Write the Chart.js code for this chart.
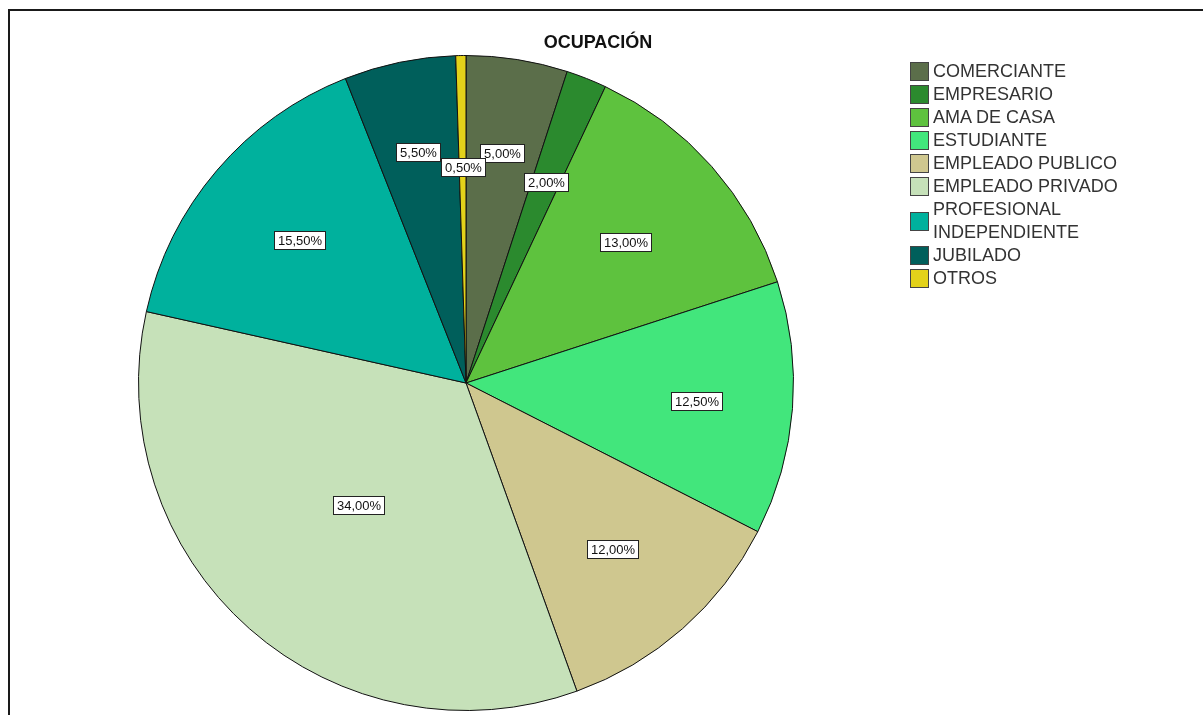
<!DOCTYPE html>
<html>
<head>
<meta charset="utf-8">
<script src="https://cdn.jsdelivr.net/npm/chart.js@4/dist/chart.umd.min.js"></script>
<style>
  html, body { margin: 0; padding: 0; background: #fff; }
  #wrap { position: relative; width: 1203px; height: 715px; overflow: hidden; font-family: "Liberation Sans", Arial, sans-serif; }
  #frame { position: absolute; left: 8px; top: 9px; width: 1200px; height: 720px; border-top: 2px solid #1a1a1a; border-left: 2px solid #1a1a1a; }
  #title { position: absolute; left: 498px; width: 200px; top: 32px; text-align: center; font-weight: bold; font-size: 18px; color: #111; }
  #chartBox { position: absolute; left: 0; top: 0; width: 1203px; height: 715px; }
  #legend { position: absolute; left: 910px; top: 60px; font-size: 18px; color: #333; }
  .item { display: flex; align-items: center; line-height: 23px; }
  .box { width: 17px; height: 17px; border: 1px solid #444; margin-right: 4px; flex: none; }
</style>
</head>
<body>
<div id="wrap">
  <div id="frame"></div>
  <div id="chartBox"><canvas id="pieChart" width="1203" height="715"></canvas></div>
  <div id="title">OCUPACIÓN</div>
  <div id="legend"></div>
</div>
<script>
// data
const labels = ["COMERCIANTE", "EMPRESARIO", "AMA DE CASA", "ESTUDIANTE", "EMPLEADO PUBLICO",
  "EMPLEADO PRIVADO", "PROFESIONAL\nINDEPENDIENTE", "JUBILADO", "OTROS"];
const percents = [5.0, 2.0, 13.0, 12.5, 12.0, 34.0, 15.5, 5.5, 0.5];
const colors = ["#5b6e4a", "#2b8a2e", "#5ec23e", "#42e67c", "#cfc78f", "#c6e1b9", "#00b19d", "#005f5b", "#e3d21a"];

// where each label sits, as a share of the radius
const labelDist = [0.71, 0.66, 0.65, 0.705, 0.675, 0.497, 0.67, 0.72, 0.66];

// percentage boxes drawn on the slices
const boxLabels = {
  id: "boxLabels",
  afterDatasetsDraw(chart) {
    const ctx = chart.ctx;
    const meta = chart.getDatasetMeta(0);
    ctx.save();
    ctx.font = "13px 'Liberation Sans', Arial, sans-serif";
    ctx.textAlign = "center";
    ctx.textBaseline = "middle";
    meta.data.forEach((arc, i) => {
      const mid = (arc.startAngle + arc.endAngle) / 2;
      const d = arc.outerRadius * labelDist[i];
      const x = arc.x + Math.cos(mid) * d;
      const y = arc.y + Math.sin(mid) * d;
      const txt = percents[i].toFixed(2).replace(".", ",") + "%";
      const w = Math.round(ctx.measureText(txt).width + 7);
      const h = 18;
      const bx = Math.round(x - w / 2) + 0.5;
      const by = Math.round(y - h / 2) + 0.5;
      ctx.fillStyle = "#fff";
      ctx.fillRect(bx, by, w, h);
      ctx.strokeStyle = "#222";
      ctx.lineWidth = 1;
      ctx.strokeRect(bx, by, w, h);
      ctx.fillStyle = "#111";
      ctx.fillText(txt, bx + w / 2, by + h / 2 + 1);
    });
    ctx.restore();
  }
};

const ctx = document.getElementById("pieChart").getContext("2d");
const chart = new Chart(ctx, {
  type: "pie",
  data: {
    labels: labels,
    datasets: [{
      data: percents,
      backgroundColor: colors,
      borderColor: "#111",
      borderWidth: 1
    }]
  },
  options: {
    responsive: false,
    animation: false,
    layout: { padding: { left: 138, right: 409, top: 55, bottom: 4 } },
    plugins: {
      legend: { display: false },
      title: { display: false },
      tooltip: { enabled: false }
    }
  },
  plugins: [boxLabels]
});

// legend on the right
const legend = document.getElementById("legend");
labels.forEach((lab, i) => {
  const item = document.createElement("div");
  item.className = "item";
  const box = document.createElement("div");
  box.className = "box";
  box.style.background = colors[i];
  const txt = document.createElement("div");
  txt.innerHTML = lab.replace("\n", "<br>");
  item.appendChild(box);
  item.appendChild(txt);
  legend.appendChild(item);
});
</script>
</body>
</html>
